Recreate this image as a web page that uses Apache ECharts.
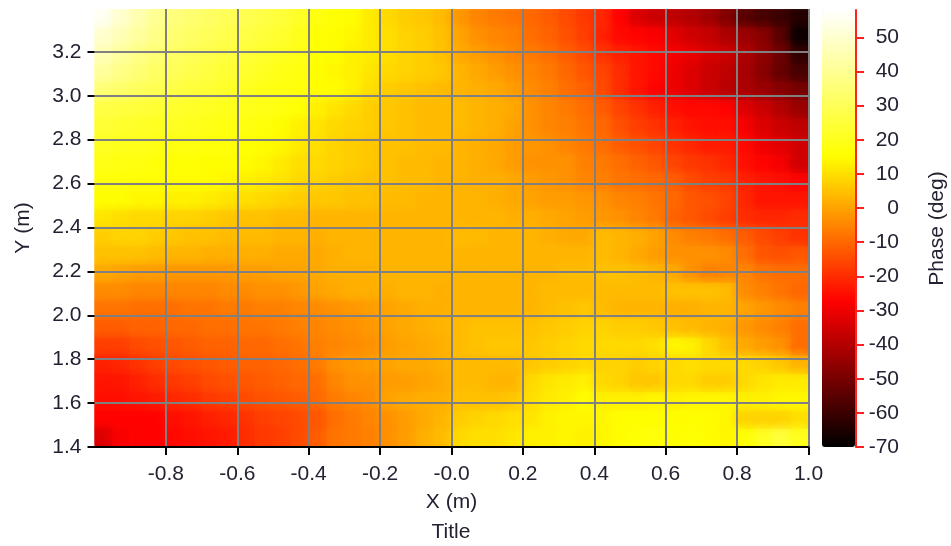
<!DOCTYPE html>
<html><head><meta charset="utf-8">
<style>html,body{margin:0;padding:0;background:#fff}#c{width:951px;height:546px}</style>
<script src="https://cdn.jsdelivr.net/npm/echarts@6/dist/echarts.min.js"></script>
</head><body><div id="c"></div>
<script>
const xCenters=[-0.975,-0.925,-0.875,-0.825,-0.775,-0.725,-0.675,-0.625,-0.575,-0.525,-0.475,-0.425,-0.375,-0.325,-0.275,-0.225,-0.175,-0.125,-0.075,-0.025,0.025,0.075,0.125,0.175,0.225,0.275,0.325,0.375,0.425,0.475,0.525,0.575,0.625,0.675,0.725,0.775,0.825,0.875,0.925,0.975];
const yCenters=[3.353,3.270,3.187,3.104,3.021,2.938,2.855,2.771,2.688,2.605,2.522,2.439,2.356,2.273,2.190,2.107,2.024,1.940,1.857,1.774,1.691,1.608,1.525,1.442];
const row00=[56,50,45,40,36,34,32,30,29,27,25,22,18,16,15,12,9,7,6,4,-2,-5,-7,-8,-10,-12,-15,-18,-21,-27,-33,-36,-38,-40,-43,-48,-55,-58,-60,-64];
const row01=[50,46,42,38,34,32,30,28,27,25,23,20,16,15,14,12,10,8,7,5,0,-3,-5,-6,-9,-11,-14,-17,-22,-26,-27,-28,-32,-35,-37,-41,-44,-47,-55,-68];
const row02=[46,42,38,35,32,30,28,26,25,23,21,19,16,15,13,12,10,8,7,5,1,-1,-3,-5,-7,-9,-12,-15,-19,-22,-24,-26,-29,-31,-34,-36,-41,-46,-52,-62];
const row03=[42,38,35,32,30,28,26,24,23,21,19,18,15,14,13,11,9,8,7,6,3,1,-1,-3,-5,-7,-10,-13,-16,-20,-24,-26,-30,-33,-36,-38,-42,-47,-53,-58];
const row04=[35,33,31,29,27,25,24,22,21,19,18,17,15,15,13,10,7,6,5,4,3,2,1,-1,-4,-6,-9,-11,-15,-20,-24,-27,-30,-33,-36,-39,-41,-44,-47,-50];
const row05=[27,26,25,24,23,22,21,20,20,19,18,16,13,11,9,7,6,5,4,4,4,3,2,1,-3,-5,-7,-9,-12,-16,-19,-22,-25,-26,-26,-27,-33,-36,-40,-44];
const row06=[24,23,22,21,21,20,19,18,18,17,15,13,11,9,8,7,6,5,4,4,4,3,2,0,-3,-5,-6,-8,-10,-14,-17,-19,-22,-24,-25,-25,-29,-33,-36,-38];
const row07=[21,20,20,19,18,18,17,17,16,15,14,12,10,8,7,6,5,5,4,4,3,2,1,-1,-2,-3,-5,-7,-9,-12,-14,-16,-19,-21,-23,-23,-26,-30,-32,-35];
const row08=[19,18,18,17,16,16,15,15,15,14,12,10,9,8,7,6,5,4,4,3,3,2,1,-1,-3,-3,-3,-6,-7,-9,-11,-13,-16,-18,-19,-21,-25,-27,-29,-35];
const row09=[17,17,16,16,15,15,15,14,13,12,11,9,8,7,6,5,5,4,4,3,3,2,2,1,-1,-2,-3,-5,-6,-8,-9,-10,-12,-15,-17,-18,-22,-24,-25,-27];
const row10=[15,15,14,14,13,13,12,11,10,9,8,7,6,6,5,5,4,4,3,3,3,3,2,1,0,-1,-1,-2,-3,-5,-6,-8,-10,-13,-14,-16,-21,-24,-24,-24];
const row11=[11,10,9,9,8,8,7,6,5,5,4,4,3,3,3,3,3,3,3,3,3,3,3,2,2,1,0,-1,-2,-3,-5,-7,-11,-13,-15,-17,-20,-21,-21,-20];
const row12=[7,8,8,7,6,5,5,4,4,4,3,3,2,3,3,3,3,3,3,3,4,4,3,3,3,2,1,1,4,3,2,0,-4,-6,-7,-9,-12,-15,-17,-19];
const row13=[5,5,5,4,3,3,2,2,2,2,1,1,1,2,3,3,3,3,3,3,3,3,3,3,3,3,3,3,4,3,1,-1,-3,-3,-3,-4,-9,-13,-14,-13];
const row14=[1,0,-1,-1,-2,-2,-2,-2,-1,-1,0,0,1,2,2,2,3,3,3,3,3,3,3,3,3,3,4,4,5,5,4,3,1,-3,-6,-5,-5,-8,-9,-9];
const row15=[-4,-4,-5,-5,-5,-5,-5,-4,-4,-3,-3,-2,0,1,2,2,2,3,3,2,3,3,3,3,3,4,4,4,4,4,4,4,5,5,5,4,-4,-6,-8,-10];
const row16=[-8,-8,-9,-9,-9,-8,-8,-7,-7,-6,-6,-5,-4,-3,-2,-1,0,1,2,2,3,3,3,3,3,4,5,6,4,3,3,3,2,2,3,3,0,-2,-4,-6];
const row17=[-12,-12,-11,-11,-10,-10,-9,-9,-8,-8,-7,-6,-5,-4,-3,-2,0,1,2,3,4,5,5,5,5,6,7,8,8,7,7,6,5,4,3,2,-2,-4,-6,-9];
const row18=[-17,-17,-15,-14,-13,-12,-11,-11,-10,-10,-9,-8,-6,-5,-4,-3,-1,0,1,2,4,5,6,6,6,7,8,9,9,9,9,10,14,13,9,5,1,-1,-3,-9];
const row19=[-22,-21,-19,-17,-15,-14,-13,-12,-11,-11,-10,-9,-7,-3,-2,-1,0,1,1,2,4,4,4,4,6,7,8,9,8,8,7,8,9,10,9,9,9,8,6,3];
const row20=[-24,-24,-22,-20,-18,-17,-15,-14,-13,-12,-11,-10,-9,-5,-3,-3,-1,-1,0,1,4,4,3,3,9,11,12,13,9,8,6,6,9,9,7,7,9,11,12,12];
const row21=[-25,-25,-24,-23,-21,-20,-18,-17,-15,-14,-13,-12,-10,-7,-5,-4,0,1,2,2,5,5,5,6,10,12,13,15,13,13,13,14,13,14,14,14,13,13,14,14];
const row22=[-27,-27,-27,-27,-25,-24,-22,-21,-19,-17,-16,-15,-13,-9,-7,-5,-3,-1,1,3,7,8,9,10,11,13,14,14,14,15,15,15,15,15,15,14,8,8,8,10];
const row23=[-33,-28,-27,-27,-26,-25,-24,-23,-20,-18,-17,-15,-12,-8,-7,-6,-3,-1,2,4,9,10,10,11,13,13,14,13,14,15,16,17,15,16,15,14,16,21,25,20];
const phaseRows=[row00,row01,row02,row03,row04,row05,row06,row07,row08,row09,row10,row11,row12,row13,row14,row15,row16,row17,row18,row19,row20,row21,row22,row23];
const xTickValues=[-0.8,-0.6,-0.4,-0.2,0,0.2,0.4,0.6,0.8,1.0];
const xTickLabels=['-0.8','-0.6','-0.4','-0.2','-0.0','0.2','0.4','0.6','0.8','1.0'];
const yTickValues=[1.4,1.6,1.8,2.0,2.2,2.4,2.6,2.8,3.0,3.2];
const yTickLabels=['1.4','1.6','1.8','2.0','2.2','2.4','2.6','2.8','3.0','3.2'];
const barTickValues=[-70,-60,-50,-40,-30,-20,-10,0,10,20,30,40,50];
const hotColors=['#000000','#ff0000','#ffff00','#ffffff'];

const font={fontFamily:'"Liberation Sans", Arial, sans-serif',fontSize:21,color:'#222233'};
const cells=[];
phaseRows.forEach((r,j)=>r.forEach((v,i)=>cells.push([xCenters[i],yCenters[j],v])));
const hx=(xCenters[1]-xCenters[0])/2, hy=(yCenters[0]-yCenters[1])/2;
function lookup(vals,labels){return v=>{const k=vals.findIndex(t=>Math.abs(t-v)<1e-6);return k<0?'':labels[k];};}
const chart=echarts.init(document.getElementById('c'),null,{renderer:'canvas'});
chart.setOption({
  animation:false,backgroundColor:'#fff',
  title:{text:'Title',left:451,top:522,textAlign:'center',padding:0,textStyle:{...font,fontWeight:'normal'}},
  grid:[{left:94.5,top:9,width:714,height:438,outerBoundsMode:'none'},{left:822,top:10,width:34,height:437,outerBoundsMode:'none'}],
  xAxis:[
   {type:'value',gridIndex:0,min:-1,max:1,z:5,name:'X (m)',nameLocation:'middle',nameGap:45,nameTextStyle:font,
    axisLine:{show:true,onZero:false,lineStyle:{color:'#000',width:2}},
    axisTick:{show:true,length:8,customValues:xTickValues,lineStyle:{color:'#000',width:2}},
    axisLabel:{...font,margin:17,customValues:xTickValues,formatter:lookup(xTickValues,xTickLabels)},
    splitLine:{show:true,customValues:xTickValues.slice(0,-1),lineStyle:{color:'#808080',width:2}}},
   {type:'value',gridIndex:1,show:false,min:0,max:1}],
  yAxis:[
   {type:'value',gridIndex:0,min:1.4,max:3.395,z:5,name:'Y (m)',nameLocation:'middle',nameGap:61,nameRotate:90,nameTextStyle:font,
    axisLine:{show:false,onZero:false},
    axisTick:{show:true,length:7,customValues:yTickValues,lineStyle:{color:'#000',width:2}},
    axisLabel:{...font,margin:13,customValues:yTickValues,formatter:lookup(yTickValues,yTickLabels)},
    splitLine:{show:true,customValues:yTickValues.slice(1),lineStyle:{color:'#808080',width:2}}},
   {type:'value',gridIndex:1,position:'right',min:-70,max:58,name:'Phase (deg)',nameLocation:'middle',nameGap:71,nameRotate:90,nameTextStyle:font,
    axisLine:{show:true,onZero:false,lineStyle:{color:'#ff2020',width:2}},
    axisTick:{show:true,length:8,customValues:barTickValues,lineStyle:{color:'#ff2020',width:2}},
    axisLabel:{...font,margin:43,align:'right',customValues:barTickValues},
    splitLine:{show:false}}],
  visualMap:{type:'continuous',seriesIndex:[0,1],dimension:2,min:-70,max:58,show:true,calculable:false,left:822,top:10,itemWidth:33,itemHeight:437,padding:0,text:null,inRange:{color:hotColors},borderWidth:0},
  series:[
   {type:'custom',xAxisIndex:0,yAxisIndex:0,data:cells,encode:{x:0,y:1},silent:true,clip:true,z:2,
    renderItem(params,api){
      const a=api.coord([api.value(0)-hx,api.value(1)+hy]),b=api.coord([api.value(0)+hx,api.value(1)-hy]);
      return {type:'rect',shape:{x:a[0],y:a[1],width:b[0]-a[0]+0.6,height:b[1]-a[1]+0.6},style:{fill:api.visual('color')}};
    }},
   {type:'custom',xAxisIndex:0,yAxisIndex:0,data:cells,encode:{x:0,y:1},silent:true,clip:true,z:3,
    renderItem(params,api){
      const c=api.coord([api.value(0),api.value(1)]);
      const p=api.coord([api.value(0)+2*hx,api.value(1)]);
      const r=p[0]-c[0]+0.4, col=api.visual('color');
      return {type:'rect',shape:{x:c[0]-r,y:c[1]-r,width:2*r,height:2*r},
        style:{fill:new echarts.graphic.RadialGradient(0.5,0.5,0.5,[{offset:0,color:col},{offset:1,color:echarts.color.modifyAlpha(col,0)}])}};
    }}]
});
</script></body></html>
